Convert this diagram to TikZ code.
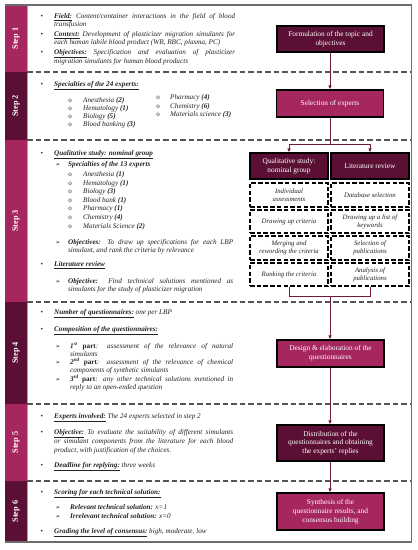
\documentclass[tikz,border=0pt]{standalone}
\usepackage{fontspec}
\setmainfont{Liberation Serif}
\newfontfamily\dejavu{DejaVu Sans}
\usetikzlibrary{arrows.meta}
\definecolor{magC}{RGB}{166,38,96}
\definecolor{darkC}{RGB}{92,15,52}
\definecolor{lineC}{RGB}{110,25,65}
\definecolor{frameC}{RGB}{150,85,115}
\definecolor{txtC}{RGB}{35,35,35}
\definecolor{sepC}{RGB}{85,85,85}
\newcommand{\lab}[1]{\textbf{\underline{#1}}}
\newcommand{\arr}{{\dejavu\upshape\fontsize{5.8}{6}\selectfont ➢}}
\begin{document}
\begin{tikzpicture}[x=1bp,y=-1bp,
  txt/.style={anchor=base west,inner sep=0,font=\fontsize{7.2}{8.5}\selectfont\itshape,text=txtC},
  para/.style={txt,text width=#1,align=justify},
  bul/.style={anchor=base,inner sep=0,font=\fontsize{7.2}{8.5}\selectfont,text=txtC},
  sub/.style={anchor=base,inner sep=0,font=\fontsize{7}{8.5}\selectfont\upshape,text=txtC},
  steplab/.style={rotate=90,text=white,inner sep=0,font=\fontsize{8.3}{9}\selectfont\bfseries},
  flowbox/.style={draw=black,line width=1.1pt,text=white,align=center,inner sep=1pt,
     minimum width=107bp,font=\fontsize{7.4}{8.8}\selectfont},
  sidebox/.style={flowbox,minimum width=78bp,minimum height=26bp},
  dbox/.style={draw=black,line width=1.2pt,dash pattern=on 4.5bp off 2.2bp,align=center,
     minimum width=78bp,inner sep=1pt,text=txtC,font=\fontsize{6.8}{8.3}\selectfont\itshape},
  conn/.style={draw=lineC,line width=0.9pt},
  arrowc/.style={conn,-{Latex[length=4bp,width=3.5bp]}},
  sepline/.style={draw=sepC,line width=1.1pt,dash pattern=on 5.5bp off 3bp}
]
\useasboundingbox (0,0) rectangle (417,550);
\fill[white] (0,0) rectangle (417,550);

% step column
\fill[magC]  (5,5)   rectangle (27,72);
\fill[darkC] (5,72)  rectangle (27,140);
\fill[magC]  (5,140) rectangle (27,302);
\fill[darkC] (5,302) rectangle (27,404);
\fill[magC]  (5,404) rectangle (27,481);
\fill[darkC] (5,481) rectangle (27,542);
\draw[gray!70,line width=0.6pt] (27,5) -- (27,542);
\node[steplab] (s1) at (16,38.5) {Step 1};
\node[steplab] (s2) at (16,106) {Step 2};
\node[steplab] (s3) at (16,221) {Step 3};
\node[steplab] (s4) at (16,353) {Step 4};
\node[steplab] (s5) at (16,442.5) {Step 5};
\node[steplab] (s6) at (16,511.5) {Step 6};

% frame
\draw[frameC,line width=0.9pt] (411,5) -- (411,542);
\draw[gray!85!black,line width=1.8pt] (5,5) -- (411.5,5);
\draw[gray!85!black,line width=1.4pt] (5,542) -- (411.5,542);

% separators
\draw[sepline] (27,72) -- (411,72);
\draw[sepline] (27,140) -- (411,140);
\draw[sepline] (27,302) -- (411,302);
\draw[sepline] (27,404) -- (411,404);
\draw[sepline] (27,481) -- (411,481);

% ---------- Step 1 text
\node[bul] (b11) at (42,18.3) {•};
\node[para=181bp] (t11) at (54,18.3) {\lab{Field:} Content/container interactions in the field of blood\linebreak transfusion};
\node[bul] (b12) at (42,36.3) {•};
\node[para=181bp] (t12) at (54,36.3) {\lab{Context:} Development of plasticizer migration simulants for\linebreak each human labile blood product (WB, RBC, plasma, PC)};
\node[bul] (b13) at (42,54.3) {•};
\node[para=181bp] (t13) at (54,54.3) {\lab{Objectives:} Specification and evaluation of plasticizer\linebreak migration simulants for human blood products};

% ---------- Step 2 text
\node[bul] (b21) at (42,86.3) {•};
\node[txt] (t21) at (54,86.3) {\lab{Specialties of the 24 experts:}};
\node[sub] (o211) at (70,102.3) {o}; \node[txt] (t211) at (83,102.3) {Anesthesia \textbf{(2)}};
\node[sub] (o212) at (70,110.5) {o}; \node[txt] (t212) at (83,110.5) {Hematology \textbf{(1)}};
\node[sub] (o213) at (70,118.5) {o}; \node[txt] (t213) at (83,118.5) {Biology \textbf{(5)}};
\node[sub] (o214) at (70,126.5) {o}; \node[txt] (t214) at (83,126.5) {Blood banking \textbf{(3)}};
\node[sub] (o221) at (158,99.8) {o}; \node[txt] (t221) at (170,99.8) {Pharmacy \textbf{(4)}};
\node[sub] (o222) at (158,108.3) {o}; \node[txt] (t222) at (170,108.3) {Chemistry \textbf{(6)}};
\node[sub] (o223) at (158,116.8) {o}; \node[txt] (t223) at (170,116.8) {Materials science \textbf{(3)}};

% ---------- Step 3 text
\node[bul] (b31) at (42,155.3) {•};
\node[txt] (t31) at (54,155.3) {\lab{Qualitative study: nominal group}};
\node[bul] (a31) at (58,166.8) {\arr};
\node[txt] (t32) at (68,166.8) {\textbf{Specialties of the 13 experts}};
\node[sub] (o31) at (70,177) {o}; \node[txt] (t311) at (83,177) {Anesthesia \textbf{(1)}};
\node[sub] (o32) at (70,185.5) {o}; \node[txt] (t312) at (83,185.5) {Hematology \textbf{(1)}};
\node[sub] (o33) at (70,194) {o}; \node[txt] (t313) at (83,194) {Biology \textbf{(3)}};
\node[sub] (o34) at (70,202.5) {o}; \node[txt] (t314) at (83,202.5) {Blood bank \textbf{(1)}};
\node[sub] (o35) at (70,211) {o}; \node[txt] (t315) at (83,211) {Pharmacy \textbf{(1)}};
\node[sub] (o36) at (70,219.5) {o}; \node[txt] (t316) at (83,219.5) {Chemistry \textbf{(4)}};
\node[sub] (o37) at (70,228) {o}; \node[txt] (t317) at (83,228) {Materials Science \textbf{(2)}};
\node[bul] (a32) at (58,244.3) {\arr};
\node[para=165bp] (t33) at (68,244.3) {\textbf{Objectives:} To draw up specifications for each LBP\linebreak simulant, and rank the criteria by relevance};
\node[bul] (b32) at (42,266.3) {•};
\node[txt] (t34) at (54,266.3) {\lab{Literature review}};
\node[bul] (a33) at (58,283.3) {\arr};
\node[para=165bp] (t35) at (68,283.3) {\textbf{Objective:} Find technical solutions mentioned as\linebreak simulants for the study of plasticizer migration};

% ---------- Step 4 text
\node[bul] (b41) at (42,314.3) {•};
\node[txt] (t41) at (54,314.3) {\lab{Number of questionnaires:} one per LBP};
\node[bul] (b42) at (42,331.3) {•};
\node[txt] (t42) at (54,331.3) {\lab{Composition of the questionnaires:}};
\node[bul] (a41) at (58,348.3) {\arr};
\node[para=163bp] (t43) at (70,348.3) {\textbf{\textit{1\textsuperscript{st}} \upshape part}: assessment of the relevance of natural\linebreak simulants};
\node[bul] (a42) at (58,364.3) {\arr};
\node[para=163bp] (t44) at (70,364.3) {\textbf{\textit{2\textsuperscript{nd}} \upshape part}: assessment of the relevance of chemical\linebreak components of synthetic simulants};
\node[bul] (a43) at (58,381.3) {\arr};
\node[para=163bp] (t45) at (70,381.3) {\textbf{\textit{3\textsuperscript{rd}} \upshape part}: any other technical solutions mentioned in\linebreak reply to an open-ended question};

% ---------- Step 5 text
\node[bul] (b51) at (42,418.3) {•};
\node[txt] (t51) at (54,418.3) {\lab{Experts involved:} The 24 experts selected in step 2};
\node[bul] (b52) at (42,434.3) {•};
\node[para=179bp] (t52) at (54,434.3) {\lab{Objective:} To evaluate the suitability of different simulants\linebreak or simulant components from the literature for each blood\linebreak product, with justification of the choices.};
\node[bul] (b53) at (42,467.3) {•};
\node[txt] (t53) at (54,467.3) {\lab{Deadline for replying:} three weeks};

% ---------- Step 6 text
\node[bul] (b61) at (42,494.3) {•};
\node[txt] (t61) at (54,494.3) {\lab{Scoring for each technical solution:}};
\node[bul] (a61) at (58,509.3) {\arr};
\node[txt] (t62) at (70,509.3) {\textbf{Relevant technical solution:} x=1};
\node[bul] (a62) at (58,518.3) {\arr};
\node[txt] (t63) at (70,518.3) {\textbf{Irrelevant technical solution:} x=0};
\node[bul] (b62) at (42,533.3) {•};
\node[txt] (t64) at (54,533.3) {\lab{Grading the level of consensus:} high, moderate, low};

% ---------- flow boxes
\node[flowbox,fill=darkC,minimum height=26bp] (form) at (330.5,39) {Formulation of the topic and\\objectives};
\node[flowbox,fill=magC,minimum height=27bp] (sel) at (330,103.5) {Selection of experts};
\node[sidebox,fill=darkC] (qual) at (289,166) {Qualitative study:\\nominal group};
\node[sidebox,fill=darkC] (lit) at (370,166) {Literature review};

\node[dbox,minimum height=24bp] (q1) at (289,195) {Individual\\assessments};
\node[dbox,minimum height=23bp] (q2) at (289,221.5) {Drawing up criteria};
\node[dbox,minimum height=24bp] (q3) at (289,248) {Merging and\\rewording the criteria};
\node[dbox,minimum height=23bp] (q4) at (289,274.5) {Ranking the criteria};
\node[dbox,minimum height=24bp] (l1) at (370,195) {Database selection};
\node[dbox,minimum height=23bp] (l2) at (370,221.5) {Drawing up a list of\\keywords};
\node[dbox,minimum height=24bp] (l3) at (370,248) {Selection of\\publications};
\node[dbox,minimum height=23bp] (l4) at (370,274.5) {Analysis of\\publications};

\node[flowbox,fill=magC,minimum height=27bp] (design) at (330.5,353.5) {Design \& elaboration of the\\questionnaires};
\node[flowbox,fill=darkC,minimum height=36bp] (dist) at (330.5,443) {Distribution of the\\questionnaires and obtaining\\the experts’ replies};
\node[flowbox,fill=magC,minimum height=37bp] (synth) at (330.5,511.5) {Synthesis of the\\questionnaire results, and\\consensus building};

% ---------- connectors
\coordinate (j1) at (330,144.5);
\coordinate (j2) at (330,296);
\draw[arrowc] (form.south -| sel.north) -- (sel.north);
\draw[conn] (sel.south) -- (j1);
\draw[arrowc] (j1) -| (qual.north);
\draw[arrowc] (j1) -| (lit.north);
\draw[conn] (q4.south) |- (j2);
\draw[conn] (l4.south) |- (j2);
\draw[arrowc] (j2) -- (j2 |- design.north);
\draw[arrowc] (design.south -| j2) -- (dist.north -| j2);
\draw[arrowc] (dist.south -| j2) -- (synth.north -| j2);
\end{tikzpicture}
\end{document}
